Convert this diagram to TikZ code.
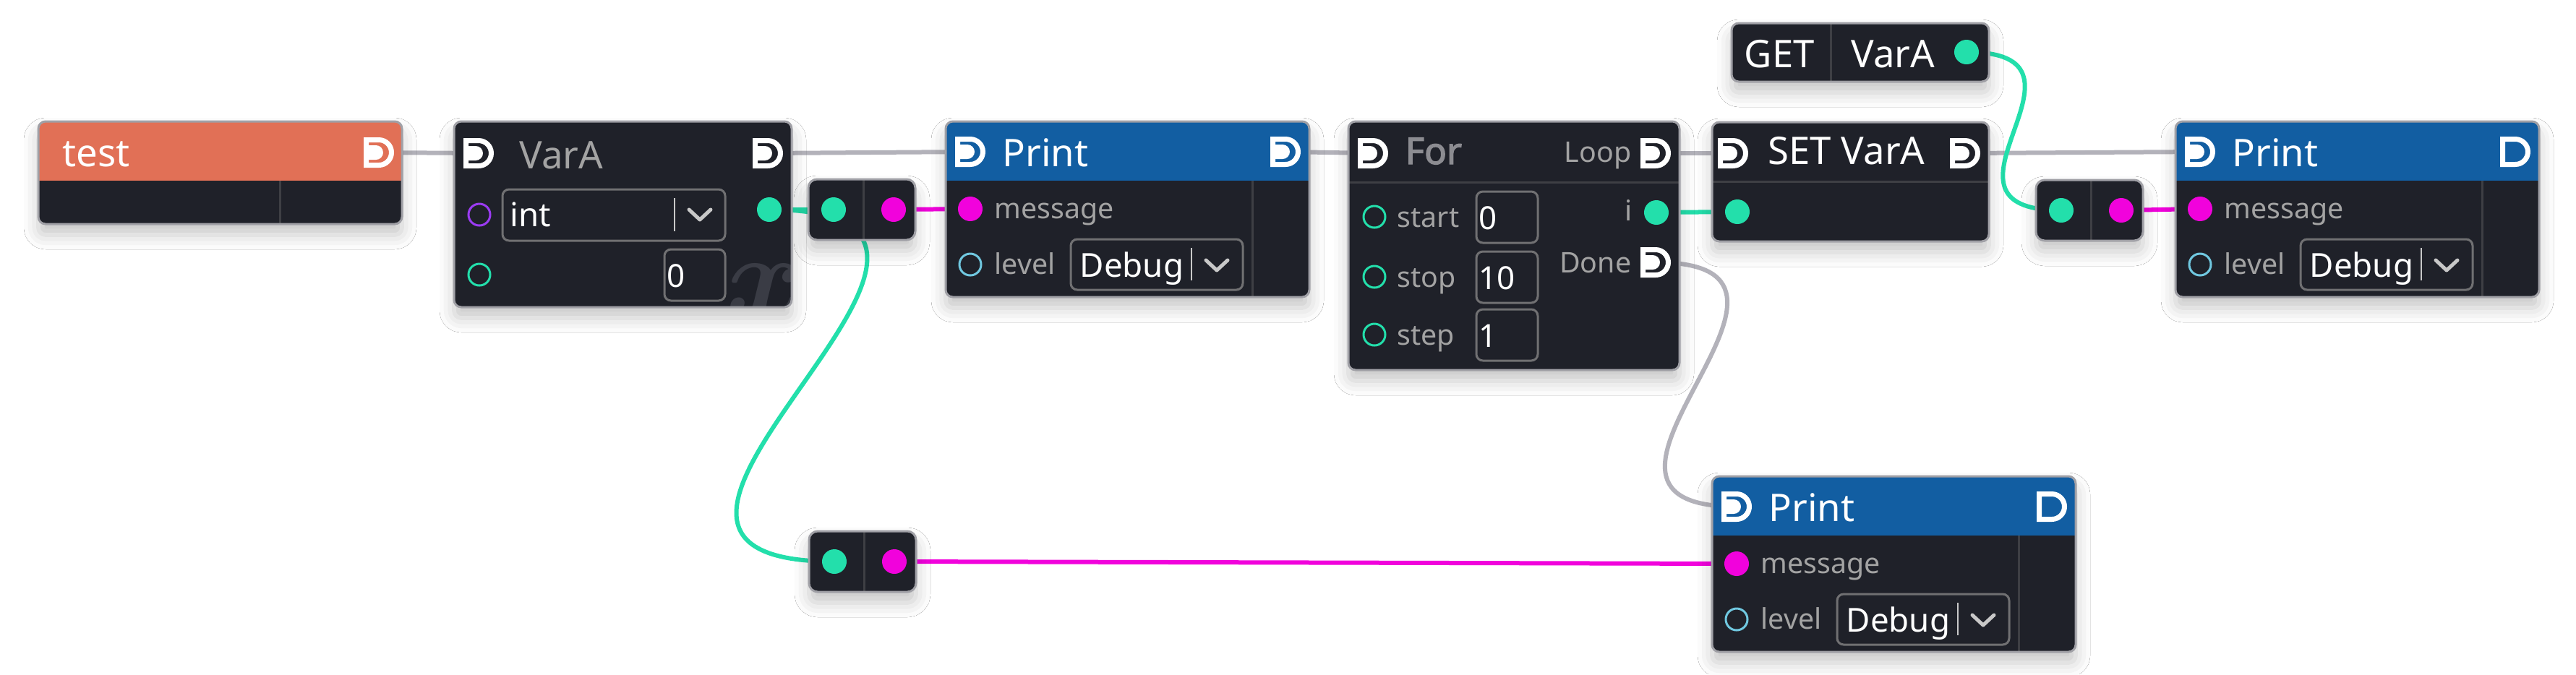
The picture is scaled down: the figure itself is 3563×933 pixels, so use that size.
\documentclass[tikz,border=0pt]{standalone}
\usepackage{fontspec}
\usepackage{bm}
\setmainfont{Noto Sans}
\newfontfamily\heavyfont{Noto Sans}[FakeBold=2.5]
\usetikzlibrary{shadows.blur,backgrounds}

\definecolor{bodycol}{RGB}{31,33,41}
\definecolor{bordercol}{RGB}{160,160,166}
\definecolor{divcol}{RGB}{62,63,68}
\definecolor{testorange}{RGB}{225,112,86}
\definecolor{printblue}{RGB}{18,94,162}
\definecolor{datagreen}{RGB}{35,223,171}
\definecolor{strmagenta}{RGB}{241,2,220}
\definecolor{execgray}{RGB}{179,178,186}
\definecolor{labelgray}{RGB}{163,163,163}
\definecolor{titlegray}{RGB}{140,140,145}
\definecolor{typepurple}{RGB}{155,59,242}
\definecolor{levelblue}{RGB}{112,200,224}
\definecolor{boxgray}{RGB}{112,112,114}
\definecolor{chevgray}{RGB}{200,200,200}
\definecolor{markgray}{RGB}{58,60,69}

\tikzset{
  nodebg/.style={fill=bodycol, rounded corners=1mm,
    blur shadow={shadow xshift=0mm, shadow yshift=-1.5mm, shadow blur radius=2mm, shadow opacity=22}},
  nodeframe/.style={draw=bordercol, line width=0.3mm, rounded corners=1mm},
  divider/.style={draw=divcol, line width=0.3mm},
  sepline/.style={draw=chevgray, line width=0.2mm},
  execlink/.style={draw=execgray, line width=0.6mm},
  greenlink/.style={draw=datagreen, line width=0.6mm},
  magentalink/.style={draw=strmagenta, line width=0.6mm},
  ring/.style={draw=#1, line width=0.3mm},
  wbox/.style={draw=boxgray, line width=0.3mm, rounded corners=0.9mm},
  titletext/.style={text=white, inner sep=0pt, font=\fontsize{15pt}{18pt}\selectfont},
  pintext/.style={text=labelgray, inner sep=0pt, font=\fontsize{11.2pt}{13pt}\selectfont},
  widgettext/.style={text=white, inner sep=0pt, font=\fontsize{13pt}{15pt}\selectfont},
  valuetext/.style={text=white, inner sep=0pt, font=\fontsize{12.5pt}{15pt}\selectfont},
  pics/execpin/.style={code={
    \draw[white, line width=0.7mm] (-17.5,-17.5) -- (0,-17.5)
      arc[start angle=-90, end angle=90, radius=17.5] -- (-17.5,17.5) -- cycle;
    \fill[white] (-17.5,-10) -- (-4,-10)
      arc[start angle=-90, end angle=90, radius=10] -- (-17.5,10) -- cycle;
  }},
  pics/execpinopen/.style={code={
    \draw[white, line width=0.7mm] (-17.5,-17.5) -- (0,-17.5)
      arc[start angle=-90, end angle=90, radius=17.5] -- (-17.5,17.5) -- cycle;
  }},
  pics/chevron/.style={code={
    \draw[chevgray, line width=0.5mm, line cap=round, line join=round]
      (-15,-7) -- (0,7) -- (15,-7);
  }},
  pics/reroute/.style={code={
    \fill[nodebg, rounded corners=1.2mm] (0,0) rectangle (148,84);
    \draw[divider] (76,0) -- (76,84);
    \draw[nodeframe, rounded corners=1.2mm] (0,0) rectangle (148,84);
    \coordinate (-in) at (35,42);
    \coordinate (-out) at (118,42);
    \fill[datagreen] (-in) circle (17);
    \fill[strmagenta] (-out) circle (17);
  }},
  pics/printnode/.style={code={
    \fill[nodebg] (0,0) rectangle (503,243);
    \begin{scope}
      \clip[rounded corners=1mm] (0,0) rectangle (503,243);
      \fill[printblue] (0,0) rectangle (503,82);
    \end{scope}
    \draw[divider] (424,82) -- (424,243);
    \draw[nodeframe] (0,0) rectangle (503,243);
    \coordinate (-in) at (34,42);
    \coordinate (-out) at (470,42);
    \coordinate (-msg) at (34,121);
    \coordinate (-lvl) at (34,198);
    \pic at (-in) {execpin};
    \pic at (-out) {#1};
    \node[titletext, anchor=base west] (-title) at (78,62) {Print};
    \fill[strmagenta] (-msg) circle (17);
    \node[pintext, anchor=base west] (-msgtext) at (67,134) {message};
    \draw[ring=levelblue] (-lvl) circle (15);
    \node[pintext, anchor=base west] (-lvltext) at (67,211) {level};
    \draw[wbox] (173,163) rectangle (411,233);
    \node[widgettext, anchor=base west] (-lvlval) at (185,215) {Debug};
    \draw[sepline] (340,175) -- (340,220);
    \pic at (375,199) {chevron};
  }}
}

\begin{document}
\begin{tikzpicture}[x=0.1mm, y=-0.1mm]
\useasboundingbox (0,0) rectangle (3563,933);

%TEST EVENT
\fill[nodebg] (53,168) rectangle (556,310);
\begin{scope}
  \clip[rounded corners=1mm] (53,168) rectangle (556,310);
  \fill[testorange] (53,168) rectangle (556,250);
\end{scope}
\draw[divider] (387,250) -- (387,310);
\draw[nodeframe] (53,168) rectangle (556,310);
\node[titletext, anchor=base west] (test-title) at (86,230) {test};
\coordinate (test-exec) at (524,211);
\pic at (test-exec) {execpin};

%VARIABLE VarA
\fill[nodebg] (628,168) rectangle (1095,425);
\begin{scope}
  \clip[rounded corners=1mm] (628,168) rectangle (1095,425);
  \node[text=markgray, inner sep=0pt, scale=4.6] (vara-mark) at (1058,402) {$\bm{x}$};
\end{scope}
\draw[nodeframe] (628,168) rectangle (1095,425);
\coordinate (vara-in) at (662,212);
\pic at (vara-in) {execpin};
\node[titletext, text=labelgray, anchor=base west] (vara-title) at (718,233) {VarA};
\coordinate (vara-exec) at (1062,212);
\pic at (vara-exec) {execpin};
\coordinate (vara-type) at (663,297);
\draw[ring=typepurple] (vara-type) circle (15);
\draw[wbox] (695,262) rectangle (1003,333);
\node[widgettext, anchor=base west] (vara-typeval) at (705,313) {int};
\draw[sepline] (933,274) -- (933,320);
\pic at (968,297) {chevron};
\coordinate (vara-out) at (1064,290);
\fill[datagreen] (vara-out) circle (17);
\coordinate (vara-init) at (663,380);
\draw[ring=datagreen] (vara-init) circle (15);
\draw[wbox] (919,345) rectangle (1003,416);
\node[valuetext, anchor=base west] (vara-initval) at (922,397) {0};

%REROUTES
\pic (rr1) at (1118,248) {reroute};
\pic (rr2) at (2816,249) {reroute};
\pic (rr3) at (1119,735) {reroute};

%PRINTS
\pic (p1) at (1308,168) {printnode=execpin};
\pic (p2) at (3009,168) {printnode=execpinopen};
\pic (p3) at (2368,659) {printnode=execpinopen};

%FOR LOOP
\fill[nodebg] (1865,168) rectangle (2323,512);
\draw[divider] (1865,252) -- (2323,252);
\draw[nodeframe] (1865,168) rectangle (2323,512);
\coordinate (for-in) at (1899,212);
\pic at (for-in) {execpin};
\node[text=titlegray, inner sep=0pt, font=\heavyfont\fontsize{14.5pt}{18pt}\selectfont,
  anchor=base west] (for-title) at (1943,227) {For};
\node[pintext, anchor=base east] (for-looptext) at (2257,224) {Loop};
\coordinate (for-loop) at (2290,212);
\pic at (for-loop) {execpin};
\foreach \pinname/\y/\val in {start/300/0, stop/383/10, step/463/1} {
  \draw[ring=datagreen] (1901,\y) circle (15);
  \node[pintext, anchor=base west] (for-\pinname) at (1932,\y+14) {\pinname};
  \draw[wbox] (2042,\y-35) rectangle (2127,\y+36);
  \node[valuetext, anchor=base west] (for-\pinname-val) at (2045,\y+17) {\val};
}
\node[pintext, anchor=base east] (for-itext) at (2258,305) {i};
\coordinate (for-i) at (2291,294);
\fill[datagreen] (for-i) circle (17);
\node[pintext, anchor=base east] (for-donetext) at (2257,377) {Done};
\coordinate (for-done) at (2290,363);
\pic at (for-done) {execpin};

%GET VarA
\fill[nodebg] (2395,32) rectangle (2751,113);
\draw[divider] (2532,32) -- (2532,113);
\draw[nodeframe] (2395,32) rectangle (2751,113);
\node[titletext, anchor=base west] (get-title) at (2412,93) {GET};
\node[titletext, anchor=base west] (get-var) at (2560,93) {VarA};
\coordinate (get-out) at (2720,72);
\fill[datagreen] (get-out) circle (17);

%SET VarA
\fill[nodebg] (2368,169) rectangle (2751,334);
\draw[divider] (2368,251) -- (2751,251);
\draw[nodeframe] (2368,169) rectangle (2751,334);
\coordinate (set-in) at (2397,212);
\pic at (set-in) {execpin};
\node[titletext, anchor=base west] (set-title) at (2445,227) {SET VarA};
\coordinate (set-exec) at (2718,212);
\pic at (set-exec) {execpin};
\coordinate (set-val) at (2403,293);
\fill[datagreen] (set-val) circle (17);

%LINKS
\begin{scope}[on background layer]
  \fill[white] (0,0) rectangle (3563,933);
  \draw[execlink] (test-exec) -- (vara-in);
  \draw[execlink] (vara-exec) -- (p1-in);
  \draw[execlink] (p1-out) -- (for-in);
  \draw[execlink] (for-loop) -- (set-in);
  \draw[execlink] (set-exec) -- (p2-in);
  \draw[execlink] (for-done) .. controls +(290,0) and +(-290,0) .. (p3-in);
  \draw[greenlink] (vara-out) -- (rr1-in);
  \draw[greenlink] (vara-out) .. controls +(430,0) and +(-430,0) .. (rr3-in);
  \draw[greenlink] (for-i) -- (set-val);
  \draw[greenlink] (get-out) .. controls +(208,0) and +(-208,0) .. (rr2-in);
  \draw[magentalink] (rr1-out) -- (p1-msg);
  \draw[magentalink] (rr2-out) -- (p2-msg);
  \draw[magentalink] (rr3-out) -- (p3-msg);
\end{scope}
\end{tikzpicture}
\end{document}
